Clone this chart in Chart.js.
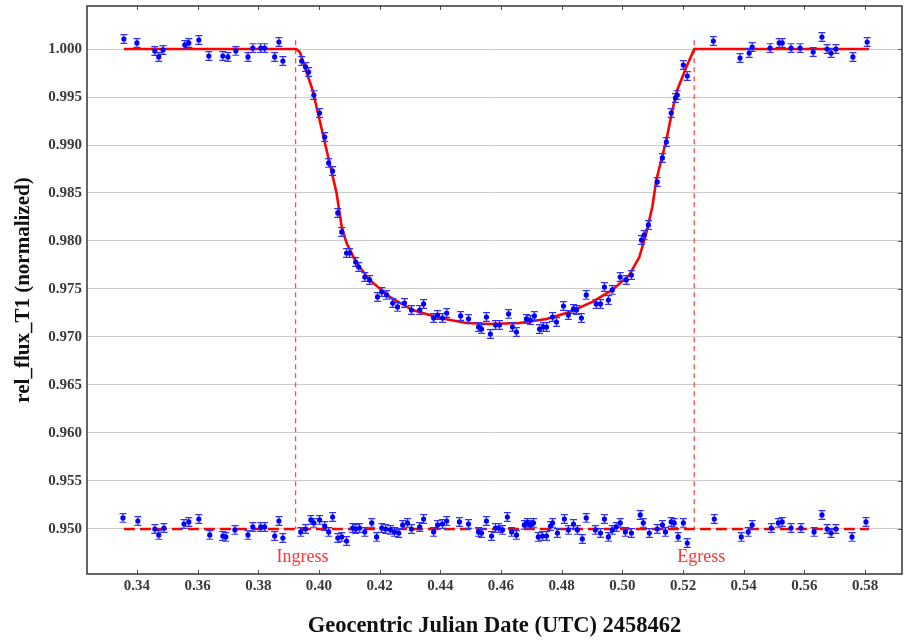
<!DOCTYPE html>
<html>
<head>
<meta charset="utf-8">
<title>rel_flux_T1</title>
<script src="https://cdn.jsdelivr.net/npm/chart.js@4.4.1/dist/chart.umd.min.js"></script>
<style>
  html, body { margin: 0; padding: 0; background: #fff; }
  canvas { display: block; }
</style>
</head>
<body>
<canvas id="lc" width="906" height="643"></canvas>
<script>
// normalized flux of T1, time is JD - 2458462
const fluxTime = [0.3357, 0.3400, 0.3459, 0.3472, 0.3486, 0.3558, 0.3571, 0.3604, 0.3637, 0.3683,
  0.3700, 0.3726, 0.3766, 0.3782, 0.3808, 0.3821, 0.3854, 0.3868, 0.3881, 0.3943,
  0.3956, 0.3966, 0.3983, 0.4002, 0.4019, 0.4032, 0.4045, 0.4062, 0.4075, 0.4091,
  0.4101, 0.4121, 0.4131, 0.4151, 0.4167, 0.4193, 0.4207, 0.4223, 0.4243, 0.4259,
  0.4282, 0.4305, 0.4332, 0.4345, 0.4378, 0.4391, 0.4407, 0.4421, 0.4467, 0.4493,
  0.4526, 0.4536, 0.4552, 0.4565, 0.4582, 0.4595, 0.4625, 0.4638, 0.4651, 0.4684,
  0.4697, 0.4710, 0.4727, 0.4740, 0.4750, 0.4770, 0.4783, 0.4806, 0.4822, 0.4839,
  0.4849, 0.4865, 0.4881, 0.4914, 0.4928, 0.4941, 0.4954, 0.4967, 0.4993, 0.5013,
  0.5030, 0.5063, 0.5072, 0.5086, 0.5115, 0.5132, 0.5145, 0.5161, 0.5175, 0.5181,
  0.5201, 0.5214, 0.5300, 0.5388, 0.5418, 0.5428, 0.5487, 0.5517, 0.5527, 0.5556,
  0.5586, 0.5629, 0.5658, 0.5675, 0.5688, 0.5704, 0.5760, 0.5807];
const fluxValue = [1.00104, 1.00063, 0.99979, 0.99917, 0.99990, 1.00042, 1.00063, 1.00094, 0.99927, 0.99927,
  0.99917, 0.99980, 0.99917, 1.00010, 1.00010, 1.00010, 0.99917, 1.00073, 0.99875, 0.99875,
  0.99813, 0.99760, 0.99520, 0.99333, 0.99083, 0.98813, 0.98729, 0.98292, 0.98094, 0.97875,
  0.97875, 0.97781, 0.97729, 0.97625, 0.97594, 0.97417, 0.97469, 0.97438, 0.97354, 0.97313,
  0.97354, 0.97281, 0.97281, 0.97344, 0.97198, 0.97229, 0.97198, 0.97250, 0.97219, 0.97188,
  0.97104, 0.97083, 0.97208, 0.97031, 0.97125, 0.97125, 0.97240, 0.97104, 0.97052, 0.97188,
  0.97177, 0.97219, 0.97083, 0.97104, 0.97104, 0.97208, 0.97156, 0.97323, 0.97229, 0.97292,
  0.97281, 0.97198, 0.97438, 0.97344, 0.97344, 0.97521, 0.97385, 0.97490, 0.97625, 0.97594,
  0.97646, 0.98010, 0.98063, 0.98167, 0.98615, 0.98865, 0.99031, 0.99333, 0.99490, 0.99520,
  0.99833, 0.99719, 1.00083, 0.99906, 0.99958, 1.00021, 1.00010, 1.00063, 1.00063, 1.00010,
  1.00010, 0.99969, 1.00125, 1.00000, 0.99958, 1.00000, 0.99917, 1.00073];

// fit residuals, offset so they sit on 0.950
const residTime = [0.3354, 0.3403, 0.3459, 0.3472, 0.3489, 0.3555, 0.3571, 0.3604, 0.3640, 0.3683,
  0.3693, 0.3723, 0.3766, 0.3782, 0.3808, 0.3821, 0.3854, 0.3868, 0.3881, 0.3940,
  0.3956, 0.3973, 0.3983, 0.4002, 0.4019, 0.4032, 0.4045, 0.4062, 0.4075, 0.4091,
  0.4111, 0.4121, 0.4134, 0.4151, 0.4174, 0.4190, 0.4207, 0.4220, 0.4236, 0.4249,
  0.4263, 0.4276, 0.4292, 0.4305, 0.4332, 0.4345, 0.4378, 0.4391, 0.4407, 0.4421,
  0.4463, 0.4493, 0.4526, 0.4536, 0.4552, 0.4569, 0.4582, 0.4592, 0.4605, 0.4621,
  0.4635, 0.4651, 0.4677, 0.4687, 0.4697, 0.4707, 0.4723, 0.4737, 0.4750, 0.4763,
  0.4770, 0.4786, 0.4809, 0.4822, 0.4839, 0.4852, 0.4868, 0.4881, 0.4911, 0.4928,
  0.4941, 0.4954, 0.4967, 0.4980, 0.4993, 0.5010, 0.5030, 0.5059, 0.5069, 0.5089,
  0.5115, 0.5132, 0.5142, 0.5161, 0.5171, 0.5184, 0.5201, 0.5214, 0.5303, 0.5392,
  0.5415, 0.5428, 0.5491, 0.5514, 0.5527, 0.5556, 0.5589, 0.5632, 0.5658, 0.5675,
  0.5688, 0.5704, 0.5757, 0.5803];
const residValue = [0.95115, 0.95083, 0.95000, 0.94938, 0.95010, 0.95052, 0.95073, 0.95104, 0.94938, 0.94927,
  0.94917, 0.94990, 0.94938, 0.95021, 0.95021, 0.95021, 0.94927, 0.95083, 0.94906, 0.94969,
  0.95000, 0.95094, 0.95063, 0.95094, 0.95031, 0.94969, 0.95125, 0.94906, 0.94917, 0.94875,
  0.95010, 0.95000, 0.95010, 0.94969, 0.95063, 0.94917, 0.95010, 0.95000, 0.94990, 0.94969,
  0.94958, 0.95042, 0.95063, 0.95000, 0.95021, 0.95104, 0.94969, 0.95042, 0.95052, 0.95083,
  0.95073, 0.95052, 0.94969, 0.94958, 0.95083, 0.94927, 0.95010, 0.95010, 0.94990, 0.95125,
  0.94969, 0.94938, 0.95042, 0.95063, 0.95042, 0.95063, 0.94917, 0.94927, 0.94927, 0.95031,
  0.95063, 0.94958, 0.95104, 0.94990, 0.95052, 0.94990, 0.94896, 0.95115, 0.94990, 0.94958,
  0.95104, 0.94917, 0.94990, 0.95021, 0.95063, 0.94969, 0.94958, 0.95146, 0.95063, 0.94958,
  0.95000, 0.95042, 0.94969, 0.95073, 0.95063, 0.94917, 0.95063, 0.94854, 0.95104, 0.94917,
  0.94969, 0.95042, 0.95010, 0.95063, 0.95073, 0.95010, 0.95010, 0.94969, 0.95146, 0.95000,
  0.94958, 0.95000, 0.94917, 0.95073];

// fitted transit model
const modelTime = [0.3357, 0.3925, 0.3937, 0.3979, 0.4012, 0.4058, 0.4075, 0.4091, 0.4124, 0.4167,
  0.4233, 0.4309, 0.4398, 0.4486, 0.4562, 0.4661, 0.4750, 0.4826, 0.4901, 0.4967,
  0.5023, 0.5056, 0.5079, 0.5099, 0.5112, 0.5145, 0.5165, 0.5181, 0.5211, 0.5237, 0.5813];
const modelValue = [1.00000, 1.00000, 0.99969, 0.99573, 0.99125, 0.98500, 0.98146, 0.97979, 0.97771, 0.97594,
  0.97417, 0.97281, 0.97198, 0.97146, 0.97135, 0.97146, 0.97188, 0.97260, 0.97365, 0.97490,
  0.97646, 0.97833, 0.98083, 0.98360, 0.98635, 0.99052, 0.99365, 0.99573, 0.99813, 1.00000, 1.00000];

const fluxErr = 0.00045;
const residBase = 0.950;
const contactTime = [0.3923, 0.5237];
const contactLabel = ['Ingress', 'Egress'];

const xTicks = [0.34, 0.36, 0.38, 0.40, 0.42, 0.44, 0.46, 0.48, 0.50, 0.52, 0.54, 0.56, 0.58];
const yTicks = [0.950, 0.955, 0.960, 0.965, 0.970, 0.975, 0.980, 0.985, 0.990, 0.995, 1.000];

const pts = (xs, ys) => xs.map((x, i) => ({ x, y: ys[i] }));
const serif = 'Liberation Serif';

// error bars under each marker, inward ticks, frame and contact labels
const decorations = {
  id: 'decorations',
  beforeDatasetDraw(chart, args) {
    const ds = chart.data.datasets[args.index];
    if (!ds.errBar) return;
    const { ctx, scales: { x, y } } = chart;
    ctx.save();
    ctx.strokeStyle = '#2f2fff';
    ctx.lineWidth = 1.2;
    ctx.beginPath();
    ds.data.forEach(p => {
      const px = x.getPixelForValue(p.x);
      const top = y.getPixelForValue(p.y + ds.errBar);
      const bot = y.getPixelForValue(p.y - ds.errBar);
      ctx.moveTo(px, top); ctx.lineTo(px, bot);
      ctx.moveTo(px - 3.5, top); ctx.lineTo(px + 3.5, top);
      ctx.moveTo(px - 3.5, bot); ctx.lineTo(px + 3.5, bot);
    });
    ctx.stroke();
    ctx.restore();
  },
  afterDraw(chart) {
    const { ctx, chartArea: a, scales: { x, y } } = chart;
    ctx.save();
    ctx.strokeStyle = '#555';
    ctx.lineWidth = 1;
    ctx.beginPath();
    xTicks.forEach(v => {
      const px = Math.round(x.getPixelForValue(v)) + 0.5;
      ctx.moveTo(px, a.bottom); ctx.lineTo(px, a.bottom - 4);
      ctx.moveTo(px, a.top); ctx.lineTo(px, a.top + 4);
    });
    yTicks.forEach(v => {
      const py = Math.round(y.getPixelForValue(v)) + 0.5;
      ctx.moveTo(a.right, py); ctx.lineTo(a.right - 4, py);
    });
    ctx.stroke();

    ctx.strokeStyle = '#333';
    ctx.lineWidth = 1.5;
    ctx.strokeRect(a.left, a.top, a.right - a.left, a.bottom - a.top);

    ctx.fillStyle = '#ff3434';
    ctx.font = '18px "' + serif + '"';
    ctx.textAlign = 'center';
    ctx.textBaseline = 'middle';
    contactTime.forEach((t, i) => {
      ctx.fillText(contactLabel[i], x.getPixelForValue(t) + 7, y.getPixelForValue(0.9471));
    });
    ctx.restore();
  }
};

const contactLine = t => ({
  data: [{ x: t, y: 1.0009 }, { x: t, y: residBase }],
  showLine: true,
  borderColor: '#ff4a4a',
  borderWidth: 1.3,
  borderDash: [5, 4],
  pointRadius: 0,
  order: 2
});

new Chart(document.getElementById('lc'), {
  type: 'scatter',
  data: {
    datasets: [
      {
        data: pts(fluxTime, fluxValue),
        errBar: fluxErr,
        pointRadius: 2.6,
        pointBackgroundColor: '#0000ff',
        pointBorderWidth: 0,
        order: 0
      },
      {
        data: pts(residTime, residValue),
        errBar: fluxErr,
        pointRadius: 2.6,
        pointBackgroundColor: '#0000ff',
        pointBorderWidth: 0,
        order: 0
      },
      {
        data: pts(modelTime, modelValue),
        showLine: true,
        borderColor: '#ff0000',
        borderWidth: 2.6,
        pointRadius: 0,
        order: 1
      },
      {
        data: [{ x: modelTime[0], y: residBase }, { x: modelTime[modelTime.length - 1], y: residBase }],
        showLine: true,
        borderColor: '#ff0000',
        borderWidth: 2.6,
        borderDash: [11, 5],
        pointRadius: 0,
        order: 1
      },
      contactLine(contactTime[0]),
      contactLine(contactTime[1])
    ]
  },
  options: {
    responsive: false,
    animation: false,
    layout: { padding: { top: 6, right: 3, left: 0, bottom: 0 } },
    plugins: { legend: { display: false }, tooltip: { enabled: false } },
    scales: {
      x: {
        type: 'linear',
        min: 0.32354,
        max: 0.59218,
        afterBuildTicks: s => { s.ticks = xTicks.map(v => ({ value: v })); },
        afterFit: s => { s.height = 69; s.paddingLeft = 0; s.paddingRight = 0; },
        grid: { display: false, drawTicks: false },
        border: { display: false },
        ticks: {
          padding: 3,
          color: '#3a3a3a',
          font: { family: serif, size: 15, weight: 'bold' },
          callback: v => v.toFixed(2)
        },
        title: {
          display: true,
          text: 'Geocentric Julian Date (UTC) 2458462',
          color: '#111',
          font: { family: serif, size: 22.5, weight: 'bold' },
          padding: { top: 0, bottom: 3 }
        }
      },
      y: {
        type: 'linear',
        min: 0.94531,
        max: 1.00448,
        afterBuildTicks: s => { s.ticks = yTicks.map(v => ({ value: v })); },
        afterFit: s => { s.width = 87; s.paddingTop = 0; s.paddingBottom = 0; },
        grid: { color: '#cccccc', lineWidth: 1, drawTicks: false },
        border: { display: false },
        ticks: {
          padding: 5,
          color: '#3a3a3a',
          font: { family: serif, size: 15, weight: 'bold' },
          callback: v => v.toFixed(3)
        },
        title: {
          display: true,
          text: 'rel_flux_T1 (normalized)',
          color: '#111',
          font: { family: serif, size: 21, weight: 'bold' },
          padding: { top: 11, bottom: 0 }
        }
      }
    }
  },
  plugins: [decorations]
});
</script>
</body>
</html>
